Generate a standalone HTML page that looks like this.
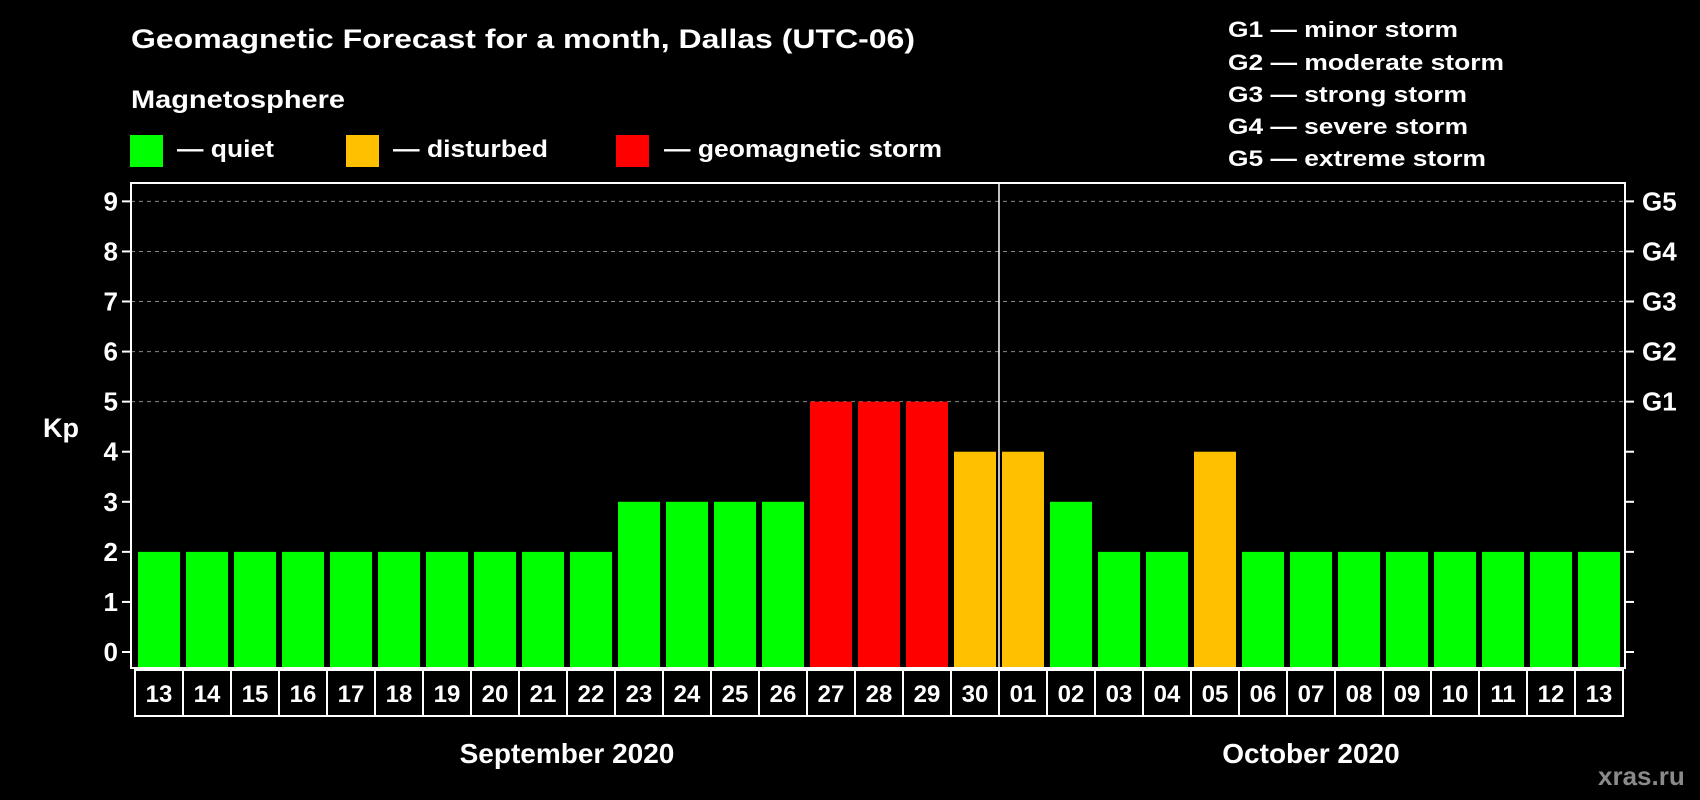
<!DOCTYPE html>
<html><head><meta charset="utf-8"><style>
html,body{margin:0;padding:0;background:#000;}
svg{display:block;font-family:"Liberation Sans",sans-serif;font-weight:bold;}
</style></head><body>
<svg id="chart" width="1700" height="800" viewBox="0 0 1700 800">
<rect width="1700" height="800" fill="#000"/>
<text x="131" y="48" fill="#fff" font-size="27" textLength="784" lengthAdjust="spacingAndGlyphs">Geomagnetic Forecast for a month, Dallas (UTC-06)</text>
<text x="131" y="108" fill="#fff" font-size="25" textLength="214" lengthAdjust="spacingAndGlyphs">Magnetosphere</text>
<g>
<rect x="130" y="135" width="33" height="32" fill="#00ff00"/>
<text x="177" y="157" fill="#fff" font-size="24" textLength="97" lengthAdjust="spacingAndGlyphs">— quiet</text></g>
<g>
<rect x="346" y="135" width="33" height="32" fill="#ffc000"/>
<text x="393" y="157" fill="#fff" font-size="24" textLength="155" lengthAdjust="spacingAndGlyphs">— disturbed</text></g>
<g>
<rect x="616" y="135" width="33" height="32" fill="#ff0000"/>
<text x="664" y="157" fill="#fff" font-size="24" textLength="278" lengthAdjust="spacingAndGlyphs">— geomagnetic storm</text></g>
<g fill="#fff" font-size="22">
<text x="1228" y="37" textLength="230" lengthAdjust="spacingAndGlyphs">G1 — minor storm</text>
<text x="1228" y="70" textLength="276" lengthAdjust="spacingAndGlyphs">G2 — moderate storm</text>
<text x="1228" y="102" textLength="239" lengthAdjust="spacingAndGlyphs">G3 — strong storm</text>
<text x="1228" y="134" textLength="240" lengthAdjust="spacingAndGlyphs">G4 — severe storm</text>
<text x="1228" y="166" textLength="258" lengthAdjust="spacingAndGlyphs">G5 — extreme storm</text>
</g>
<text x="43" y="437" fill="#fff" font-size="27">Kp</text>
<text x="1598" y="785" fill="#8a8a8a" font-size="26">xras.ru</text>
<g id="plot"></g>
</svg>
<script>
const days = ["13","14","15","16","17","18","19","20","21","22","23","24","25","26","27","28","29","30","01","02","03","04","05","06","07","08","09","10","11","12","13"];
const kpValues = [2,2,2,2,2,2,2,2,2,2,3,3,3,3,5,5,5,4,4,3,2,2,4,2,2,2,2,2,2,2,2];
const yTicks = [0,1,2,3,4,5,6,7,8,9];
const gLabels = ["G1","G2","G3","G4","G5"];
const months = ["September 2020","October 2020"];
const monthSplit = 18;

const NS="http://www.w3.org/2000/svg";
const plot=document.getElementById('plot');
const L=131,R=1625,T=183,B=668,firstX=138,pitch=48,barW=42,y0=652,unit=50.07;
const yS=v=>y0-v*unit;
const xS=i=>firstX+i*pitch;
function mk(tag,attrs,parent){const e=document.createElementNS(NS,tag);for(const k in attrs)e.setAttribute(k,attrs[k]);(parent||plot).appendChild(e);return e;}
const color=v=>v>=5?"#ff0000":(v>=4?"#ffc000":"#00ff00");

// gridlines
yTicks.forEach(v=>{
  if(v>=5){const g=mk('line',{x1:L,x2:R,y1:yS(v),y2:yS(v),stroke:"#888","stroke-width":1,"stroke-dasharray":"4,4"});
  
  }
  const t=mk('line',{x1:L-9,x2:L,y1:yS(v),y2:yS(v),stroke:"#fff","stroke-width":2});
  
  
  const t2=mk('line',{x1:R,x2:R+9,y1:yS(v),y2:yS(v),stroke:"#fff","stroke-width":2});
  
  
  const lb=mk('text',{x:118,y:yS(v)+9,fill:"#fff","font-size":26,"text-anchor":"end"});
  lb.textContent=v;
  
  
});
gLabels.forEach((g,i)=>{
  const t=mk('text',{x:1642,y:yS(i+5)+9,fill:"#fff","font-size":26});
  t.textContent=g;
  
  
});
// bars
kpValues.forEach((v,i)=>{
  const b=mk('rect',{x:xS(i),y:yS(v),width:barW,height:B-yS(v),fill:color(v)});
  
  
});
// frame
const fr=mk('rect',{x:L,y:T,width:R-L,height:B-T,fill:"none",stroke:"#fff","stroke-width":2});


const sep=mk('line',{x1:xS(monthSplit)-3,x2:xS(monthSplit)-3,y1:T,y2:B,stroke:"#fff","stroke-width":1.5});


// day label boxes
days.forEach((d,i)=>{
  const bx=mk('rect',{x:xS(i)-3,y:670,width:pitch,height:46,fill:"none",stroke:"#fff","stroke-width":2});
  
  
  const t=mk('text',{x:xS(i)+barW/2,y:702,fill:"#fff","font-size":24,"text-anchor":"middle"});
  t.textContent=d;
  
  
});
const m1=mk('text',{x:(xS(0)+xS(monthSplit))/2-3,y:763,fill:"#fff","font-size":28,"text-anchor":"middle"});
m1.textContent=months[0];


const m2=mk('text',{x:(xS(monthSplit)+xS(days.length))/2-3,y:763,fill:"#fff","font-size":28,"text-anchor":"middle"});
m2.textContent=months[1];


</script>
</body></html>
